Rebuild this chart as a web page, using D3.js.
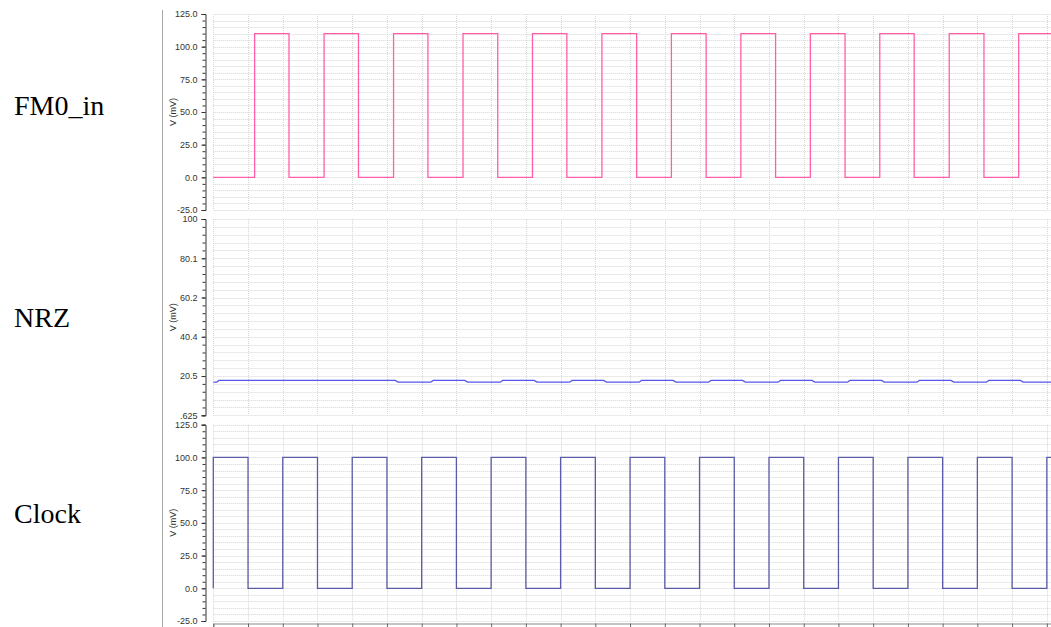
<!DOCTYPE html>
<html lang="en">
<head>
<meta charset="utf-8">
<title>FM0 decoder waveforms</title>
<script src="https://d3js.org/d3.v7.min.js"></script>
<style>
  body { margin: 0; background: #fff; }
  svg { display: block; }
  .tick text { font-family: "Liberation Sans", Arial, sans-serif; font-size: 9px; fill: #333; }
  .ylab { font-family: "Liberation Sans", Arial, sans-serif; font-size: 9px; fill: #333; }
  .sig { font-family: "Liberation Serif", "Times New Roman", serif; font-size: 28px; fill: #000; }
</style>
</head>
<body>
<svg width="1051" height="627"></svg>
<script>
// time axis (one grid step per unit), values in mV
const timeTicks = [0,1,2,3,4,5,6,7,8,9,10,11,12,13,14,15,16,17,18,19,20,21,22,23,24];

// FM0_in: [time, mV] steps
const fm0 = [
  [0,0],[1.19,110],[2.18,0],[3.19,110],[4.18,0],[5.19,110],[6.18,0],[7.19,110],[8.19,0],
  [9.19,110],[10.18,0],[11.19,110],[12.19,0],[13.19,110],[14.19,0],[15.19,110],[16.19,0],
  [17.19,110],[18.19,0],[19.19,110],[20.18,0],[21.19,110],[22.19,0],[23.19,110],[24.12,110]
];

// NRZ: [time, mV] points (short ramps at each transition)
const nrz = [
  [0,17.4],[0.1,17.4],[0.16,18.3],[5.24,18.3],[5.32,17.4],[6.26,17.4],[6.33,18.3],
  [7.24,18.3],[7.32,17.4],[8.26,17.4],[8.33,18.3],[9.24,18.3],[9.32,17.4],[10.26,17.4],[10.33,18.3],
  [11.24,18.3],[11.32,17.4],[12.26,17.4],[12.33,18.3],[13.24,18.3],[13.32,17.4],[14.26,17.4],[14.33,18.3],
  [15.24,18.3],[15.32,17.4],[16.26,17.4],[16.33,18.3],[17.24,18.3],[17.32,17.4],[18.26,17.4],[18.33,18.3],
  [19.24,18.3],[19.32,17.4],[20.26,17.4],[20.33,18.3],[21.24,18.3],[21.32,17.4],[22.26,17.4],[22.33,18.3],
  [23.24,18.3],[23.32,17.4],[24.12,17.4]
];

// Clock: [time, mV] steps
const clock = [
  [0,0],[0,100],[1,0],[2,100],[3,0],[4,100],[5,0],[6,100],[7,0],[8,100],[9,0],[10,100],[11,0],
  [12,100],[13,0],[14,100],[15,0],[16,100],[17,0],[18,100],[19,0],[20,100],[21,0],[22,100],
  [23,0],[24,100],[24.12,100]
];

// y axis tick values and labels
const fm0Ticks = [-25, 0, 25, 50, 75, 100, 125];
const fm0TickLabels = ["-25.0","0.0","25.0","50.0","75.0","100.0","125.0"];
const nrzTicks = [0.625, 20.5, 40.375, 60.25, 80.125, 100];
const nrzTickLabels = [".625","20.5","40.4","60.2","80.1","100"];
const clockTicks = [-25, 0, 25, 50, 75, 100, 125];
const clockTickLabels = ["-25.0","0.0","25.0","50.0","75.0","100.0","125.0"];

const svg = d3.select("svg");

const x = d3.scaleLinear().domain([0, 24.12]).range([213.3, 1051]);

const panels = [
  {name: "FM0_in", data: fm0, ticks: fm0Ticks, labels: fm0TickLabels, domain: [-25,125],
   top: 14, bottom: 210, color: "#ff5fa8", curve: d3.curveStepAfter, nameY: 115},
  {name: "NRZ", data: nrz, ticks: nrzTicks, labels: nrzTickLabels, domain: [0.625,100],
   top: 219, bottom: 415.3, color: "#5656ee", curve: d3.curveLinear, nameY: 327},
  {name: "Clock", data: clock, ticks: clockTicks, labels: clockTickLabels, domain: [-25,125],
   top: 424.7, bottom: 621, color: "#5b5ba8", curve: d3.curveStepAfter, nameY: 523}
];

// left frame line
svg.append("line")
   .attr("x1", 162.5).attr("x2", 162.5)
   .attr("y1", 10).attr("y2", 627)
   .attr("stroke", "#a8a8a8");

panels.forEach(p => {
  const y = d3.scaleLinear().domain(p.domain).range([p.bottom, p.top]);

  // minor ticks: 5 subdivisions between majors
  const minors = [];
  for (let i = 0; i < p.ticks.length - 1; i++) {
    const step = (p.ticks[i+1] - p.ticks[i]) / 5;
    for (let j = 0; j < 5; j++) minors.push(p.ticks[i] + j*step);
  }
  minors.push(p.ticks[p.ticks.length - 1]);

  const g = svg.append("g");

  // horizontal grid at every minor tick
  g.selectAll(".hgrid").data(minors).enter().append("line")
   .attr("x1", x(0)).attr("x2", 1051)
   .attr("y1", d => Math.round(y(d)) + 0.5).attr("y2", d => Math.round(y(d)) + 0.5)
   .attr("stroke", "#d6d6d6").attr("stroke-dasharray", "1,1");

  // vertical grid
  g.selectAll(".vgrid").data(timeTicks).enter().append("line")
   .attr("x1", d => Math.round(x(d)) + 0.5).attr("x2", d => Math.round(x(d)) + 0.5)
   .attr("y1", p.top).attr("y2", p.bottom)
   .attr("stroke", "#d6d6d6").attr("stroke-dasharray", "1,1");

  // signal
  const line = d3.line().x(d => x(d[0])).y(d => y(d[1])).curve(p.curve);
  g.append("path")
   .attr("d", line(p.data))
   .attr("fill", "none")
   .attr("stroke", p.color)
   .attr("stroke-width", 1.3);

  // y axis with major ticks + labels
  const axis = d3.axisLeft(y)
                 .tickValues(p.ticks)
                 .tickFormat((d, i) => p.labels[i])
                 .tickSize(4)
                 .tickPadding(4);
  const ag = g.append("g").attr("transform", "translate(205.5,0)").call(axis);
  ag.select(".domain").attr("stroke", "#333");
  ag.selectAll(".tick line").attr("stroke", "#333");

  // minor ticks
  const minorAxis = d3.axisLeft(y).tickValues(minors).tickFormat("").tickSize(3);
  const mg = g.append("g").attr("transform", "translate(205.5,0)").call(minorAxis);
  mg.select(".domain").remove();
  mg.selectAll(".tick line").attr("stroke", "#333");

  // y label
  g.append("text")
   .attr("class", "ylab")
   .attr("transform", "translate(176," + ((p.top + p.bottom) / 2) + ") rotate(-90)")
   .attr("text-anchor", "middle")
   .text("V (mV)");

  // signal name
  svg.append("text")
     .attr("class", "sig")
     .attr("x", 14)
     .attr("y", p.nameY)
     .text(p.name);
});

// bottom time axis (labels fall outside the picture)
const xAxis = d3.axisBottom(x).tickValues(timeTicks).tickFormat("").tickSize(5);
const xg = svg.append("g").attr("transform", "translate(0,623.5)").call(xAxis);
xg.select(".domain").attr("stroke", "#888");
xg.selectAll(".tick line").attr("stroke", "#666");
</script>
</body>
</html>
